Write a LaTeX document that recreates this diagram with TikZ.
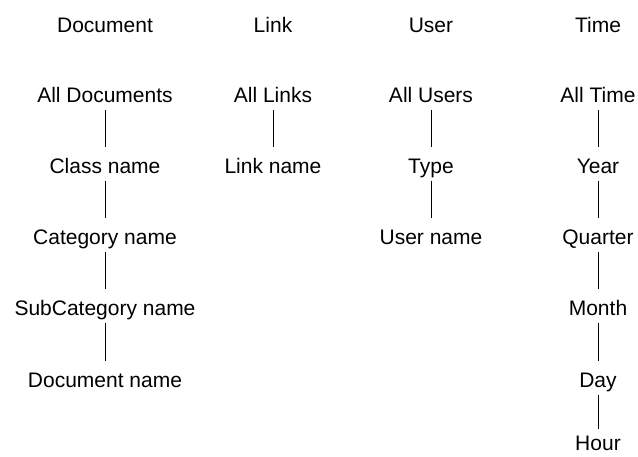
\documentclass[tikz,border=0pt]{standalone}
\usepackage{fontspec}
\setmainfont{Liberation Sans}
\begin{document}
\begin{tikzpicture}[x=1pt,y=-1pt,
  lbl/.style={inner sep=0pt, text height=15pt, text depth=0pt, font=\fontsize{21}{24}\selectfont},
  conn/.style={draw=black, line width=1pt, shorten <=7pt, shorten >=11pt}]
\useasboundingbox (0,0) rectangle (638,456);
% titles
\node[lbl] (tDoc) at (105,25) {Document};
\node[lbl] (tLink) at (273,25) {Link};
\node[lbl] (tUser) at (431,25) {User};
\node[lbl] (tTime) at (598,25) {Time};
% Document column
\node[lbl] (d1) at (105,95) {All Documents};
\node[lbl] (d2) at (105,166) {Class name};
\node[lbl] (d3) at (105,237) {Category name};
\node[lbl] (d4) at (105,308) {SubCategory name};
\node[lbl] (d5) at (105,380) {Document name};
\draw[conn] (d1) -- (d2);
\draw[conn] (d2) -- (d3);
\draw[conn] (d3) -- (d4);
\draw[conn] (d4) -- (d5);
% Link column
\node[lbl] (l1) at (273,95) {All Links};
\node[lbl] (l2) at (273,166) {Link name};
\draw[conn] (l1) -- (l2);
% User column
\node[lbl] (u1) at (431,95) {All Users};
\node[lbl] (u2) at (431,166) {Type};
\node[lbl] (u3) at (431,237) {User name};
\draw[conn] (u1) -- (u2);
\draw[conn] (u2) -- (u3);
% Time column
\node[lbl] (m1) at (598,95) {All Time};
\node[lbl] (m2) at (598,166) {Year};
\node[lbl] (m3) at (598,237) {Quarter};
\node[lbl] (m4) at (598,308) {Month};
\node[lbl] (m5) at (598,380) {Day};
\node[lbl] (m6) at (598,443) {Hour};
\draw[conn] (m1) -- (m2);
\draw[conn] (m2) -- (m3);
\draw[conn] (m3) -- (m4);
\draw[conn] (m4) -- (m5);
\draw[conn, shorten >=6pt] (m5) -- (m6);
\end{tikzpicture}
\end{document}
